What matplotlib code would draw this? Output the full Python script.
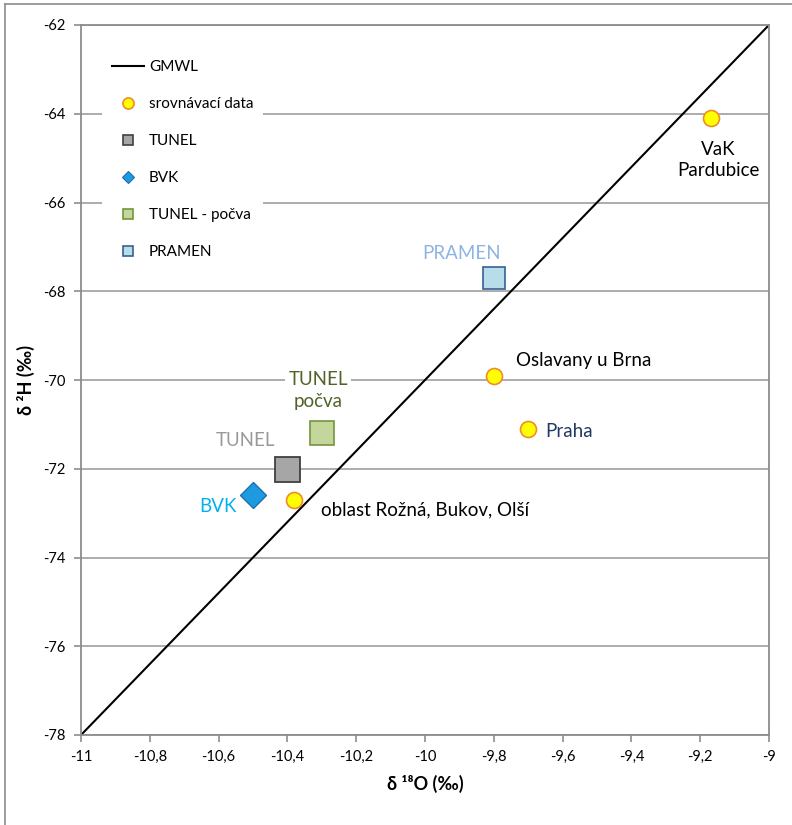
import numpy as np
import matplotlib.pyplot as plt
from matplotlib.lines import Line2D
from matplotlib.ticker import FuncFormatter, MultipleLocator

plt.rcParams['font.family'] = ['Lato', 'DejaVu Sans']

# GMWL: d2H = 8 * d18O + 10
gmwl_x = [-11, -9]
gmwl_slope = 8
gmwl_intercept = 10

# srovnávací data
ref_names = ["VaK\nPardubice", "Oslavany u Brna", "Praha", "oblast Rožná, Bukov, Olší"]
ref_o18 = [-9.17, -9.80, -9.70, -10.38]
ref_h2 = [-64.1, -69.9, -71.1, -72.7]

tunel_o18, tunel_h2 = [-10.40], [-72.0]
bvk_o18, bvk_h2 = [-10.50], [-72.6]
pocva_o18, pocva_h2 = [-10.30], [-71.2]
pramen_o18, pramen_h2 = [-9.80], [-67.7]

yellow, orange = '#FFFF00', '#F08C28'
grid_gray = '#A6A6A6'

fig = plt.figure(figsize=(7.92, 8.25), dpi=100)
ax = fig.add_axes([81 / 792, 90 / 825, 688 / 792, 710 / 825])

# figure border (top and left visible)
fig.add_artist(Line2D([5 / 792, 5 / 792], [0, 1 - 4 / 825], color='#8C8C8C', lw=1.2, transform=fig.transFigure))
fig.add_artist(Line2D([5 / 792, 1], [1 - 4 / 825, 1 - 4 / 825], color='#8C8C8C', lw=1.2, transform=fig.transFigure))

ax.set_xlim(-11, -9)
ax.set_ylim(-78, -62)
ax.xaxis.set_major_locator(MultipleLocator(0.2))
ax.yaxis.set_major_locator(MultipleLocator(2))
fmt = FuncFormatter(lambda v, p: ('%g' % round(v, 2)).replace('.', ','))
ax.xaxis.set_major_formatter(fmt)
ax.yaxis.set_major_formatter(fmt)
ax.tick_params(direction='out', length=5, color='#8C8C8C', width=1.2, labelsize=10.5, pad=6)
for s in ax.spines.values():
    s.set_color('#8C8C8C')
    s.set_linewidth(1.3)
ax.grid(axis='y', color=grid_gray, lw=1.3)
ax.set_axisbelow(True)

gx = np.array(gmwl_x)
ax.plot(gx, gmwl_slope * gx + gmwl_intercept, color='black', lw=1.5, zorder=2)

ax.plot(ref_o18, ref_h2, 'o', ms=11.5, mfc=yellow, mec=orange, mew=1.2, zorder=4)
ax.plot(tunel_o18, tunel_h2, 's', ms=18, mfc='#A6A6A6', mec='#404040', mew=1.3, zorder=4)
ax.plot(bvk_o18, bvk_h2, 'D', ms=13, mfc='#1E9BE0', mec='#1F6FB0', mew=1.0, zorder=4)
ax.plot(pocva_o18, pocva_h2, 's', ms=17.5, mfc='#C3D69B', mec='#77933C', mew=1.2, zorder=4)
ax.plot(pramen_o18, pramen_h2, 's', ms=15.5, mfc='#B7DEE8', mec='#376092', mew=1.2, zorder=4)

# point labels
fs = 13.5
ax.text(-9.148, -65.04, ref_names[0], ha='center', va='center', fontsize=fs, linespacing=1.3)
ax.text(-9.735, -69.57, ref_names[1], ha='left', va='center', fontsize=fs)
ax.text(-9.651, -71.15, ref_names[2], ha='left', va='center', fontsize=fs, color='#1F3864')
ax.text(-10.302, -72.93, ref_names[3], ha='left', va='center', fontsize=fs)
ax.text(-10.548, -72.84, "BVK", ha='right', va='center', fontsize=fs, color='#00B0F0')
ax.text(-10.523, -71.37, "TUNEL", ha='center', va='center', fontsize=fs, color='#999999')
ax.text(-10.311, -70.23, "TUNEL\npočva", ha='center', va='center', fontsize=fs, color='#4F6228',
        linespacing=1.35, bbox=dict(facecolor='white', edgecolor='none', pad=2))
ax.text(-9.895, -67.14, "PRAMEN", ha='center', va='center', fontsize=fs, color='#8EB4E3')

ax.set_xlabel('δ ¹⁸O (‰)', fontsize=13, fontweight='bold', labelpad=8)
ax.set_ylabel('δ ²H (‰)', fontsize=13, fontweight='bold', labelpad=6)

handles = [
    Line2D([], [], color='black', lw=1.5),
    Line2D([], [], ls='none', marker='o', ms=8, mfc=yellow, mec=orange, mew=1.2),
    Line2D([], [], ls='none', marker='s', ms=7.5, mfc='#A6A6A6', mec='#404040', mew=1.2),
    Line2D([], [], ls='none', marker='D', ms=6.5, mfc='#1E9BE0', mec='#1F6FB0', mew=0.8),
    Line2D([], [], ls='none', marker='s', ms=7.5, mfc='#C3D69B', mec='#77933C', mew=1.2),
    Line2D([], [], ls='none', marker='s', ms=7.5, mfc='#B7DEE8', mec='#376092', mew=1.2),
]
labels = ['GMWL', 'srovnávací data', 'TUNEL', 'BVK', 'TUNEL - počva', 'PRAMEN']
ax.legend(handles, labels, loc='upper left', bbox_to_anchor=(0.02, 0.974), fontsize=11,
          frameon=True, framealpha=1, facecolor='white', edgecolor='none', fancybox=False,
          labelspacing=1.5, handlelength=2.1, handletextpad=0.35, borderpad=0.6)

fig.savefig('out.png', dpi=100)
